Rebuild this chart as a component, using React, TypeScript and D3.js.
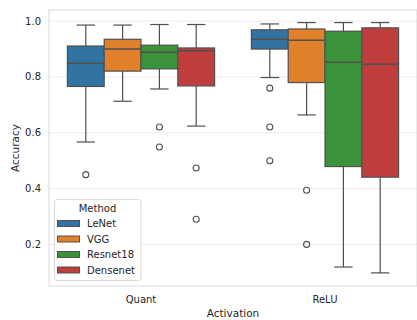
import React from "react";
import * as d3 from "d3";

const activations = ["Quant", "ReLU"];
const methods = ["LeNet", "VGG", "Resnet18", "Densenet"];
const colors = ["#3274a1", "#e1812c", "#3a923a", "#c03d3e"];
const yTicks = [0.2, 0.4, 0.6, 0.8, 1.0];

// per activation, per method: [lowWhisker, q1, median, q3, highWhisker]
const quantStats = [
  [0.567, 0.766, 0.849, 0.911, 0.986],
  [0.713, 0.821, 0.9, 0.935, 0.986],
  [0.757, 0.829, 0.889, 0.914, 0.988],
  [0.624, 0.768, 0.894, 0.904, 0.988],
];
const reluStats = [
  [0.798, 0.9, 0.935, 0.969, 0.99],
  [0.664, 0.78, 0.932, 0.972, 0.995],
  [0.119, 0.479, 0.853, 0.964, 0.995],
  [0.098, 0.441, 0.846, 0.976, 0.995],
];
const quantOutliers = [[0.45], [], [0.621, 0.549], [0.474, 0.29]];
const reluOutliers = [[0.76, 0.621, 0.5], [0.394, 0.2], [], []];

const W = 417, H = 320;
const M = { left: 49, right: 417, top: 10, bottom: 286 };
const lineColor = "#505050";

export default function App() {
  const x = d3.scaleBand<string>().domain(activations).range([M.left, M.right]);
  const y = d3.scaleLinear().domain([0.051, 1.04]).range([M.bottom, M.top]);
  const hue = d3
    .scaleBand<string>()
    .domain(methods)
    .range([0, x.bandwidth() * 0.8]);
  const statsAll = [quantStats, reluStats];
  const outAll = [quantOutliers, reluOutliers];

  return (
    <svg width={W} height={H} style={{ display: "block", position: "absolute", left: 0, top: 0 }}
      fontFamily="DejaVu Sans, sans-serif">
      <rect x={0} y={0} width={W} height={H} fill="#fff" />
      {yTicks.map((t) => (
        <g key={t}>
          <line x1={M.left} x2={M.right} y1={y(t)} y2={y(t)} stroke="#ebebeb" strokeWidth={1} />
          <text x={41} y={y(t)} dy="0.35em" textAnchor="end" fontSize={10} fill="#262626">
            {d3.format(".1f")(t)}
          </text>
        </g>
      ))}
      <rect x={M.left} y={M.top} width={M.right - M.left} height={M.bottom - M.top}
        fill="none" stroke="#d9d9d9" strokeWidth={1} />
      {activations.map((a, ai) => {
        const x0 = (x(a) as number) + x.bandwidth() * 0.1;
        return (
          <g key={a}>
            {methods.map((m, mi) => {
              const [lo, q1, med, q3, hi] = statsAll[ai][mi];
              const bx = x0 + (hue(m) as number);
              const bw = hue.bandwidth();
              const cx = bx + bw / 2;
              return (
                <g key={m}>
                  <line x1={cx} x2={cx} y1={y(q3)} y2={y(hi)} stroke={lineColor} strokeWidth={1.2} />
                  <line x1={cx} x2={cx} y1={y(q1)} y2={y(lo)} stroke={lineColor} strokeWidth={1.2} />
                  <line x1={cx - bw / 4} x2={cx + bw / 4} y1={y(hi)} y2={y(hi)} stroke={lineColor} strokeWidth={1.2} />
                  <line x1={cx - bw / 4} x2={cx + bw / 4} y1={y(lo)} y2={y(lo)} stroke={lineColor} strokeWidth={1.2} />
                  <rect x={bx} y={y(q3)} width={bw} height={y(q1) - y(q3)} fill={colors[mi]}
                    stroke={lineColor} strokeWidth={1.2} />
                  <line x1={bx} x2={bx + bw} y1={y(med)} y2={y(med)} stroke={lineColor} strokeWidth={1.5} />
                  {outAll[ai][mi].map((o, oi) => (
                    <circle key={oi} cx={cx} cy={y(o)} r={3} fill="none" stroke={lineColor} strokeWidth={1.1} />
                  ))}
                </g>
              );
            })}
            <text x={(x(a) as number) + x.bandwidth() / 2} y={299} dy="0.35em" textAnchor="middle"
              fontSize={10} fill="#262626">{a}</text>
          </g>
        );
      })}
      <text x={(M.left + M.right) / 2} y={313} dy="0.35em" textAnchor="middle" fontSize={10.5} fill="#262626">
        Activation
      </text>
      <text transform={`translate(15,${(M.top + M.bottom) / 2}) rotate(-90)`} dy="0.35em" textAnchor="middle"
        fontSize={10.5} fill="#262626">Accuracy</text>
      <g>
        <rect x={54.5} y={199.5} width={86.5} height={81} rx={2.5} fill="#fff" fillOpacity={0.8}
          stroke="#d9d9d9" strokeWidth={1} />
        <text x={97.5} y={208.5} dy="0.35em" textAnchor="middle" fontSize={10} fill="#262626">Method</text>
        {methods.map((m, mi) => (
          <g key={m}>
            <rect x={57.5} y={220.5 + mi * 15.5} width={22} height={6} fill={colors[mi]} stroke={lineColor} strokeWidth={1} />
            <text x={87} y={223.5 + mi * 15.5} dy="0.35em" fontSize={10} fill="#262626">{m}</text>
          </g>
        ))}
      </g>
    </svg>
  );
}
